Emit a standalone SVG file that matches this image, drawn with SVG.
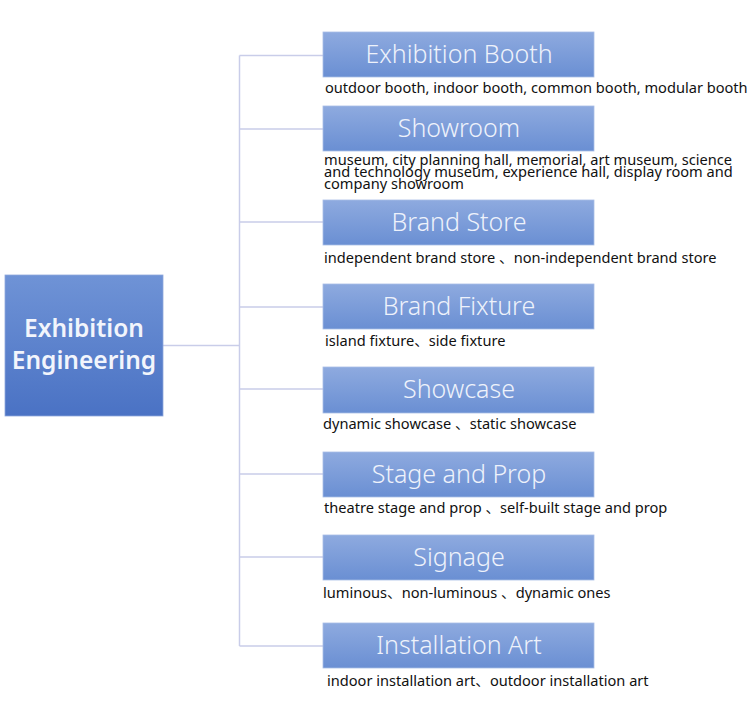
<svg xmlns="http://www.w3.org/2000/svg" width="751" height="707" viewBox="0 0 751 707">
<defs>
<linearGradient id="gMain" x1="0" y1="0" x2="0" y2="1">
<stop offset="0" stop-color="#6f93d6"/>
<stop offset="1" stop-color="#4a72c4"/>
</linearGradient>
<linearGradient id="gSub" x1="0" y1="0" x2="0" y2="1">
<stop offset="0" stop-color="#8eaadf"/>
<stop offset="1" stop-color="#6a8fd3"/>
</linearGradient>
<style>
.sub{fill:url(#gSub);stroke:#a9bde6;stroke-width:0.8}
.title{font-family:"Noto Sans","Open Sans","Liberation Sans",sans-serif;font-size:25px;font-weight:300;fill:#eef2fb;text-anchor:middle}
.desc{font-family:"Noto Sans","Noto Sans CJK SC",sans-serif;font-size:14.6px;fill:#111}
.conn{stroke:#c9cde9;stroke-width:1.5;fill:none}
</style>
</defs>
<rect width="751" height="707" fill="#ffffff"/>
<g id="connectors">
<path class="conn" d="M163 345.5H239.5M239.5 55.5V646M239.5 55.5H323M239.5 129H323M239.5 222H323M239.5 307H323M239.5 389H323M239.5 474H323M239.5 557H323M239.5 646H323"/>
</g>
<g id="main">
<rect x="5" y="275" width="158" height="141" fill="url(#gMain)" stroke="#8fa8dc" stroke-width="0.8"/>
<text x="84" y="337" font-family="Noto Sans, Open Sans, sans-serif" font-size="24.5" font-weight="600" fill="#f2f5fc" text-anchor="middle">Exhibition</text>
<text x="84" y="369" font-family="Noto Sans, Open Sans, sans-serif" font-size="24.5" font-weight="600" fill="#f2f5fc" text-anchor="middle">Engineering</text>
</g>
<g id="n1">
<rect class="sub" x="323" y="32" width="271" height="45"/>
<text class="title" x="459" y="63">Exhibition Booth</text>
<text class="desc" x="325" y="93">outdoor booth, indoor booth, common booth, modular booth</text>
</g>
<g id="n2">
<rect class="sub" x="323" y="106" width="271" height="45"/>
<text class="title" x="459" y="137">Showroom</text>
<text class="desc" x="324" y="164.5">museum, city planning hall, memorial, art museum, science</text>
<text class="desc" x="324" y="176.8">and technology museum, experience hall, display room and</text>
<text class="desc" x="324" y="189">company showroom</text>
</g>
<g id="n3">
<rect class="sub" x="323" y="200" width="271" height="45"/>
<text class="title" x="459" y="231">Brand Store</text>
<text class="desc" x="324" y="263">independent brand store 、non-independent brand store</text>
</g>
<g id="n4">
<rect class="sub" x="323" y="284" width="271" height="45"/>
<text class="title" x="459" y="315">Brand Fixture</text>
<text class="desc" x="325" y="346">island fixture、side fixture</text>
</g>
<g id="n5">
<rect class="sub" x="323" y="367" width="271" height="46"/>
<text class="title" x="459" y="398">Showcase</text>
<text class="desc" x="323" y="429">dynamic showcase 、static showcase</text>
</g>
<g id="n6">
<rect class="sub" x="323" y="452" width="271" height="45"/>
<text class="title" x="459" y="483">Stage and Prop</text>
<text class="desc" x="324" y="513">theatre stage and prop 、self-built stage and prop</text>
</g>
<g id="n7">
<rect class="sub" x="323" y="535" width="271" height="45"/>
<text class="title" x="459" y="566">Signage</text>
<text class="desc" x="323" y="598">luminous、non-luminous 、dynamic ones</text>
</g>
<g id="n8">
<rect class="sub" x="323" y="623" width="271" height="45"/>
<text class="title" x="459" y="654">Installation Art</text>
<text class="desc" x="327" y="686">indoor installation art、outdoor installation art</text>
</g>
</svg>
